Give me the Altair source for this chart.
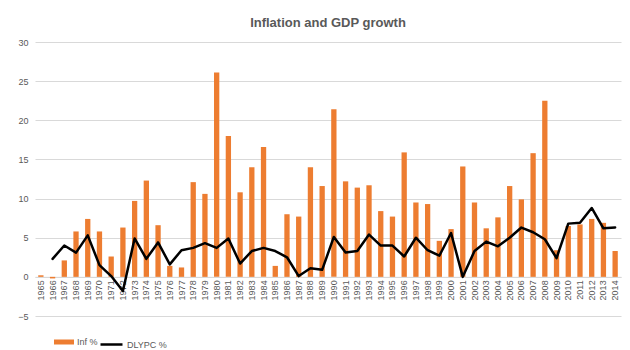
import altair as alt
import pandas as pd

years = ["1965", "1966", "1967", "1968", "1969", "1970", "1971", "1972", "1973", "1974",
         "1975", "1976", "1977", "1978", "1979", "1980", "1981", "1982", "1983", "1984",
         "1985", "1986", "1987", "1988", "1989", "1990", "1991", "1992", "1993", "1994",
         "1995", "1996", "1997", "1998", "1999", "2000", "2001", "2002", "2003", "2004",
         "2005", "2006", "2007", "2008", "2009", "2010", "2011", "2012", "2013", "2014"]

inflation = [0.2, -0.2, 2.1, 5.8, 7.4, 5.8, 2.6, 6.3, 9.7, 12.3,
             6.6, 1.4, 1.2, 12.1, 10.6, 26.1, 18.0, 10.8, 14.0, 16.6,
             1.4, 8.0, 7.7, 14.0, 11.6, 21.4, 12.2, 11.4, 11.7, 8.4,
             7.7, 15.9, 9.5, 9.3, 4.6, 6.1, 14.1, 9.5, 6.2, 7.6,
             11.6, 9.9, 15.8, 22.5, 3.4, 6.5, 6.7, 7.4, 6.9, 3.3]

dlypc = [None, 2.3, 4.0, 3.1, 5.3, 1.5, 0.1, -1.8, 4.9, 2.3,
         4.4, 1.6, 3.4, 3.7, 4.3, 3.7, 4.9, 1.7, 3.3, 3.7,
         3.3, 2.5, 0.1, 1.1, 0.9, 5.1, 3.1, 3.3, 5.4, 4.0,
         4.0, 2.6, 5.0, 3.4, 2.7, 5.6, 0.0, 3.3, 4.5, 3.9,
         5.0, 6.3, 5.7, 4.8, 2.4, 6.8, 6.9, 8.8, 6.2, 6.3]

y_ticks = [-5, 0, 5, 10, 15, 20, 25, 30]
series_names = ["Inf %", "DLYPC %"]

df = pd.DataFrame({"Year": years, "Inf": inflation, "DLYPC": dlypc,
                   "s_bar": series_names[0], "s_line": series_names[1]})

FONT = "Liberation Sans, sans-serif"
GRAY = "#595959"
W, H = 586, 274
zero_offset = -(H * 5 / 35)

x_axis = alt.Axis(
    title=None, labelAngle=270, labelFontSize=9, labelColor=GRAY, labelFont=FONT,
    ticks=False, domainColor="#D9D9D9", domainWidth=1, offset=zero_offset,
    labelPadding=3, grid=False, labelOverlap=False,
)
x_scale = alt.Scale(paddingInner=0.55, paddingOuter=0.275)

y_axis = alt.Axis(
    title=None, values=y_ticks, labelFontSize=9, labelColor=GRAY, labelFont=FONT,
    ticks=False, domain=False, grid=True, gridColor="#D9D9D9", gridWidth=1,
    gridOpacity=1, labelPadding=7, labelOverlap=False, labelFlush=False,
)
y_scale = alt.Scale(domain=[-5, 30], nice=False, zero=False)

bars = alt.Chart(df).mark_bar(size=5.3).encode(
    x=alt.X("Year:N", sort=years, scale=x_scale, axis=x_axis),
    y=alt.Y("Inf:Q", scale=y_scale, axis=y_axis),
    color=alt.Color(
        "s_bar:N",
        scale=alt.Scale(domain=[series_names[0]], range=["#ED7D31"]),
        legend=alt.Legend(
            orient="none", legendX=19, legendY=290, title=None, padding=0,
            symbolType="M-1,-0.25H1V0.25H-1Z", symbolSize=400, symbolStrokeWidth=0,
            labelFontSize=9, labelColor=GRAY, labelFont=FONT, labelOffset=3,
        ),
    ),
)

line = alt.Chart(df).mark_line(strokeWidth=2.5, strokeJoin="round", strokeCap="round").encode(
    x=alt.X("Year:N", sort=years, scale=x_scale, axis=x_axis),
    y=alt.Y("DLYPC:Q", scale=y_scale, axis=y_axis),
    stroke=alt.Stroke(
        "s_line:N",
        scale=alt.Scale(domain=[series_names[1]], range=["#000000"]),
        legend=alt.Legend(
            orient="none", legendX=64, legendY=290, title=None, padding=0,
            symbolType="stroke", symbolSize=484, symbolStrokeWidth=2.5,
            labelFontSize=9, labelColor=GRAY, labelFont=FONT, labelOffset=3,
        ),
    ),
)

chart = alt.layer(bars, line).resolve_scale(color="independent", stroke="independent").properties(
    width=W,
    height=H,
    autosize="none",
    padding={"left": 35, "top": 42, "right": 9, "bottom": 34},
    title=alt.TitleParams(
        "Inflation and GDP growth", fontSize=13, fontWeight="bold", color=GRAY,
        font=FONT, anchor="middle", offset=8,
    ),
    background="white",
).configure_view(stroke=None)

chart.save("out.html", embed_options={"renderer": "svg", "actions": False})
